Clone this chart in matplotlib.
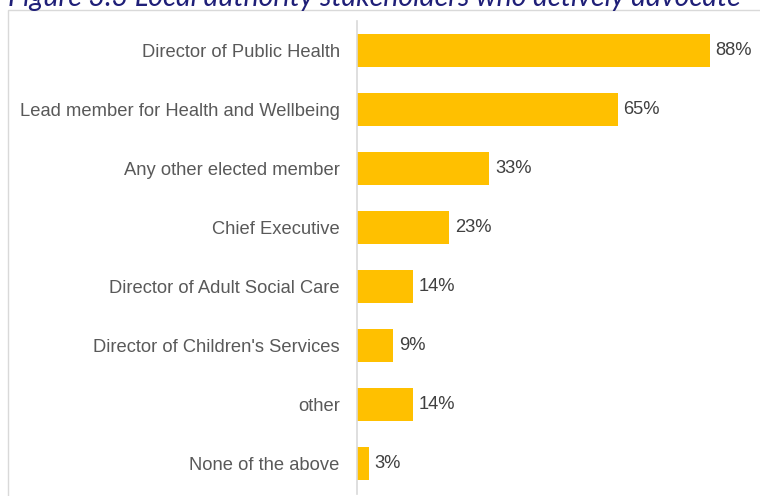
import matplotlib
matplotlib.use("Agg")
import matplotlib.pyplot as plt
from matplotlib.patches import Rectangle

categories = ["Director of Public Health", "Lead member for Health and Wellbeing",
              "Any other elected member", "Chief Executive",
              "Director of Adult Social Care", "Director of Children's Services",
              "other", "None of the above"]
values = [88, 65, 33, 23, 14, 9, 14, 3]
value_labels = ["88%", "65%", "33%", "23%", "14%", "9%", "14%", "3%"]
title = "Figure 3.3 Local authority stakeholders who actively advocate"

plt.rcParams['font.family'] = ['Liberation Sans', 'DejaVu Sans']

fig = plt.figure(figsize=(7.6, 4.96), dpi=100)
W, H = 760, 496

# outer frame
fig.patches.append(Rectangle((8 / W, -0.01), 1.0, 1 - 10 / H + 0.01,
                             transform=fig.transFigure, fill=False,
                             edgecolor='#d9d9d9', linewidth=1.0))

fig.text(8 / W, 1 - 6 / H, title, fontsize=20.5, style='italic', color='#1f1f78',
         family=['Lato', 'DejaVu Sans'], ha='left', va='baseline')

ax = fig.add_axes([357 / W, 1 - 493.5 / H, (758 - 357) / W, (493.5 - 20.5) / H])
y = list(range(len(categories)))
ax.barh(y, values, height=0.56, color='#ffc000')
ax.set_ylim(len(categories) - 0.5, -0.5)
ax.set_xlim(0, 100)
ax.set_yticks(y)
ax.set_yticklabels(categories, fontsize=13.2, color='#595959')
ax.tick_params(axis='y', length=0, pad=12.5)
ax.set_xticks([])
for s in ['top', 'right', 'bottom']:
    ax.spines[s].set_visible(False)
ax.spines['left'].set_color('#d9d9d9')
ax.spines['left'].set_linewidth(1.2)
ax.patch.set_alpha(0)
for yi, v, lab in zip(y, values, value_labels):
    ax.text(v + 1.4, yi, lab, va='center', ha='left', fontsize=13.2, color='#404040')

fig.savefig("out.png", dpi=100)
